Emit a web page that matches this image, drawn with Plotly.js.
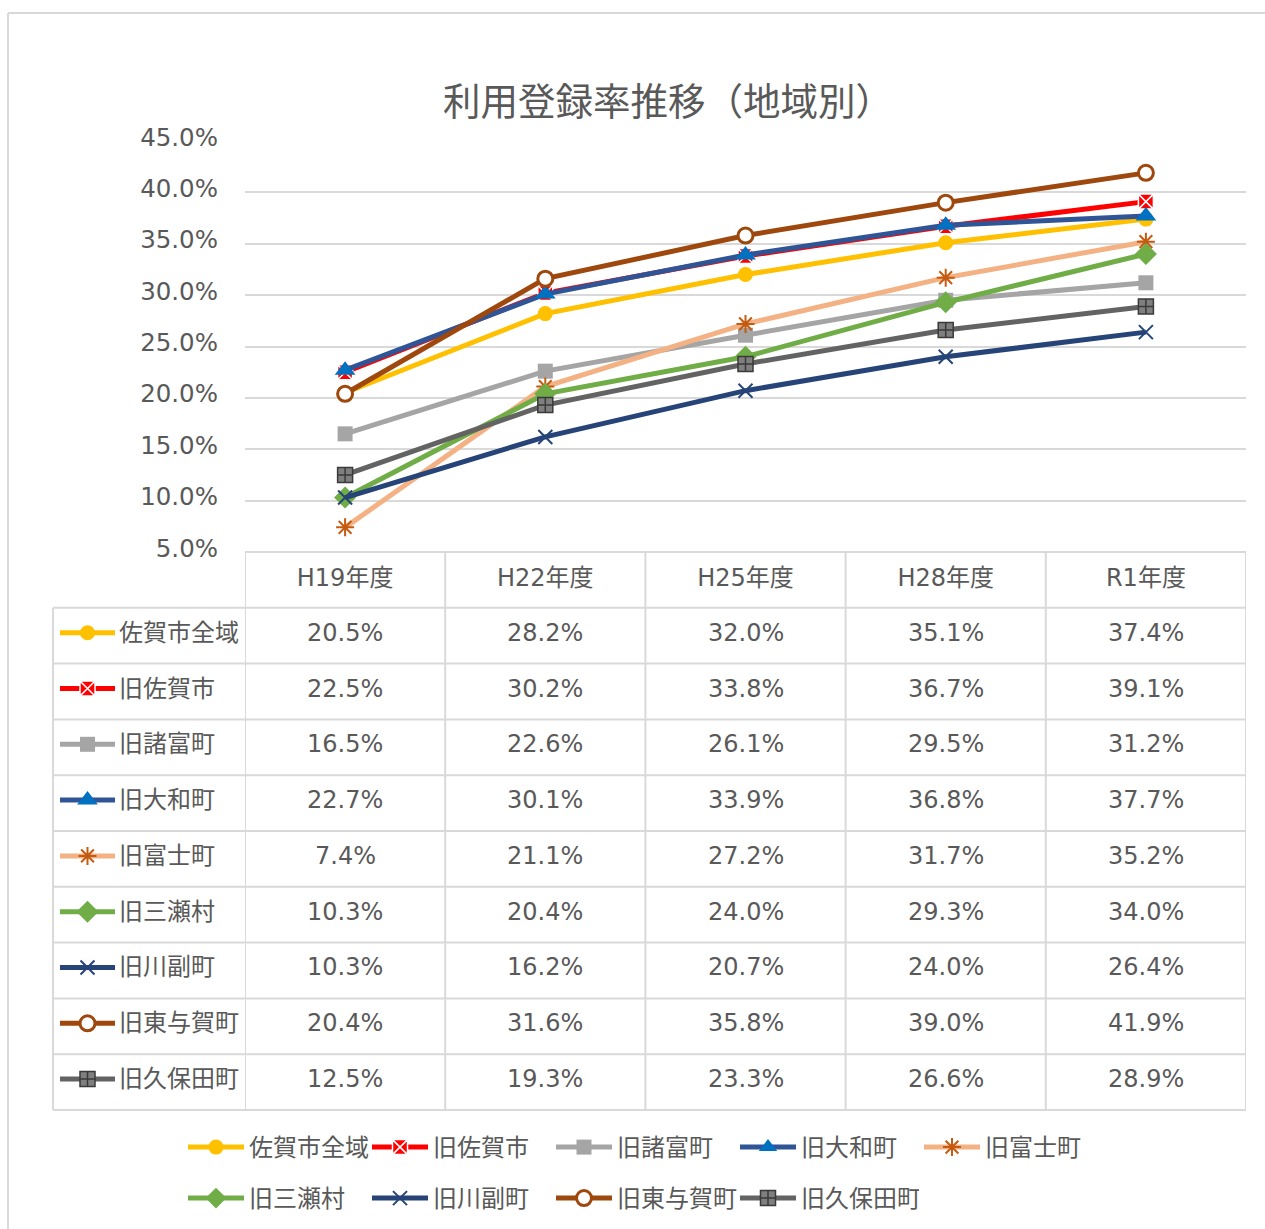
<!DOCTYPE html>
<html><head><meta charset="utf-8">
<script src="https://cdn.plot.ly/plotly-3.0.1.min.js"></script>
<style>html,body{margin:0;padding:0;background:#fff}</style>
</head><body><div id="chart" style="width:1265px;height:1229px"></div>
<script>
// ---- data ----
const years = ['H19年度','H22年度','H25年度','H28年度','R1年度'];
const regionNames = ['佐賀市全域','旧佐賀市','旧諸富町','旧大和町','旧富士町','旧三瀬村','旧川副町','旧東与賀町','旧久保田町'];
const sagaAll     = [20.5, 28.2, 32.0, 35.1, 37.4];
const kyuSaga     = [22.5, 30.2, 33.8, 36.7, 39.1];
const morodomi    = [16.5, 22.6, 26.1, 29.5, 31.2];
const yamato      = [22.7, 30.1, 33.9, 36.8, 37.7];
const fuji        = [7.4, 21.1, 27.2, 31.7, 35.2];
const mitsuse     = [10.3, 20.4, 24.0, 29.3, 34.0];
const kawasoe     = [10.3, 16.2, 20.7, 24.0, 26.4];
const higashiyoka = [20.4, 31.6, 35.8, 39.0, 41.9];
const kubota      = [12.5, 19.3, 23.3, 26.6, 28.9];
const yTicks = [5, 10, 15, 20, 25, 30, 35, 40, 45];
const chartTitle = '利用登録率推移（地域別）';

const seriesValues = [sagaAll, kyuSaga, morodomi, yamato, fuji, mitsuse, kawasoe, higashiyoka, kubota];

// ---- styles ----
const styles = [
  {line:'#FFC000', sym:'circle',        mc:'#FFC000', ml:'#FFC000', mlw:0,   ms:15},
  {line:'#FF0000', sym:'square-x',      mc:'#FF0000', ml:'#FFFFFF', mlw:1.5, ms:15},
  {line:'#A5A5A5', sym:'square',        mc:'#A5A5A5', ml:'#A5A5A5', mlw:0,   ms:15},
  {line:'#2F5597', sym:'triangle-up',   mc:'#0070C0', ml:'#0070C0', mlw:0,   ms:18},
  {line:'#F4B183', sym:'asterisk-open', mc:'#C55A11', ml:'#C55A11', mlw:2,   ms:15},
  {line:'#70AD47', sym:'diamond',       mc:'#70AD47', ml:'#70AD47', mlw:0,   ms:17},
  {line:'#264478', sym:'x-thin-open',   mc:'#264478', ml:'#264478', mlw:2,   ms:14},
  {line:'#9E480E', sym:'circle',        mc:'#FFFFFF', ml:'#9E480E', mlw:3,   ms:15},
  {line:'#636363', sym:'square-cross',  mc:'#7F7F7F', ml:'#3A3A3A', mlw:1.5, ms:15}
];

const W = 1265, H = 1229;
const px = v => v / W;
const py = v => 1 - v / H;
const FONT = 'DejaVu Sans, Noto Sans CJK JP, sans-serif';
const TXT = '#595959';
const GRID = '#D9D9D9';

// layout geometry (pixels)
const plotL = 245, plotR = 1246, plotT = 141, plotB = 552;
const rowH = 55.8;
const tableL = 53;
const nRows = regionNames.length;
const tableB = plotB + rowH * (nRows + 1);

const traces = [];
seriesValues.forEach((vals, i) => {
  const s = styles[i];
  traces.push({
    type: 'scatter', mode: 'lines+markers', name: regionNames[i],
    x: years, y: vals,
    legend: i < 5 ? 'legend' : 'legend2',
    line: {color: s.line, width: 5},
    marker: {symbol: s.sym, color: s.mc, size: s.ms, line: {color: s.ml, width: s.mlw}},
    hoverinfo: 'x+y+name'
  });
});

// table row keys (legend keys inside the data table) on an overlay pixel axis
const keyX0 = 60, keyX1 = 115;
regionNames.forEach((nm, i) => {
  const s = styles[i];
  const rc = plotB + rowH * (i + 1) + rowH / 2;
  traces.push({
    type: 'scatter', mode: 'lines', xaxis: 'x2', yaxis: 'y2', showlegend: false, hoverinfo: 'skip',
    x: [keyX0, keyX1], y: [rc - 3, rc - 3], line: {color: s.line, width: 5}
  });
  traces.push({
    type: 'scatter', mode: 'markers', xaxis: 'x2', yaxis: 'y2', showlegend: false, hoverinfo: 'skip',
    x: [(keyX0 + keyX1) / 2], y: [rc - 3],
    marker: {symbol: s.sym, color: s.mc, size: s.ms, line: {color: s.ml, width: s.mlw}}
  });
});

const shapes = [];
// outer frame
shapes.push({type:'line', xref:'paper', yref:'paper', x0:px(8), x1:1, y0:py(13), y1:py(13), line:{color:GRID, width:2}});
shapes.push({type:'line', xref:'paper', yref:'paper', x0:px(8), x1:px(8), y0:py(13), y1:0, line:{color:GRID, width:2}});
// table horizontal lines
shapes.push({type:'line', xref:'paper', yref:'paper', x0:px(plotL), x1:px(plotR), y0:py(plotB), y1:py(plotB), line:{color:GRID, width:2}});
for (let k = 1; k <= nRows + 1; k++) {
  const yy = plotB + rowH * k;
  shapes.push({type:'line', xref:'paper', yref:'paper', x0:px(tableL), x1:px(plotR), y0:py(yy), y1:py(yy), line:{color:GRID, width:2}});
}
// table vertical lines at category boundaries
for (let i = 0; i <= years.length; i++) {
  shapes.push({type:'line', xref:'x', yref:'paper', x0:i - 0.5, x1:i - 0.5, y0:py(plotB), y1:py(tableB), line:{color:GRID, width:2}});
}
shapes.push({type:'line', xref:'paper', yref:'paper', x0:px(tableL), x1:px(tableL), y0:py(plotB + rowH), y1:py(tableB), line:{color:GRID, width:2}});

const annotations = [];
annotations.push({xref:'paper', yref:'paper', x:px(668), y:py(102), text:chartTitle, showarrow:false,
  xanchor:'center', yanchor:'middle', font:{family:FONT, size:37.5, color:TXT}});
regionNames.forEach((nm, i) => {
  const rc = plotB + rowH * (i + 1) + rowH / 2;
  annotations.push({xref:'paper', yref:'paper', x:px(117), y:py(rc - 3), text:nm, showarrow:false,
    xanchor:'left', yanchor:'middle', font:{family:FONT, size:24, color:TXT}});
  seriesValues[i].forEach((v, j) => {
    annotations.push({xref:'x', yref:'paper', x:j, y:py(rc - 3), text:v.toFixed(1) + '%', showarrow:false,
      xanchor:'center', yanchor:'middle', font:{family:FONT, size:24, color:TXT}});
  });
});

const legendCommon = {orientation:'h', xanchor:'left', yanchor:'top',
  font:{family:FONT, size:24, color:TXT}, itemwidth:56, entrywidth:113, entrywidthmode:'pixels',
  bgcolor:'rgba(0,0,0,0)', itemclick:false, itemdoubleclick:false};

const layout = {
  width: W, height: H,
  margin: {l:0, r:0, t:0, b:0},
  paper_bgcolor: '#FFFFFF', plot_bgcolor: 'rgba(0,0,0,0)',
  showlegend: true,
  xaxis: {
    type:'category', domain:[px(plotL), px(plotR)], range:[-0.5, years.length - 0.5],
    showgrid:false, zeroline:false, showline:false, ticks:'',
    tickfont:{family:FONT, size:24, color:TXT}, ticklabelstandoff: 9, fixedrange:true
  },
  yaxis: {
    domain:[py(plotB), py(plotT)], range:[5, 45], tickvals: yTicks, ticktext: yTicks.map(v => v.toFixed(1) + '%'),
    showgrid:true, gridcolor:GRID, gridwidth:2, zeroline:false, showline:false, ticks:'',
    tickfont:{family:FONT, size:24.5, color:TXT}, ticklabelstandoff: 26, ticklabelshift: -4, fixedrange:true
  },
  xaxis2: {domain:[0,1], range:[0, W], visible:false, anchor:'y2', fixedrange:true},
  yaxis2: {domain:[0,1], range:[H, 0], visible:false, anchor:'x2', fixedrange:true},
  legend: Object.assign({x:px(183), y:py(1125)}, legendCommon),
  legend2: Object.assign({x:px(183), y:py(1176)}, legendCommon),
  shapes: shapes,
  annotations: annotations
};

Plotly.newPlot('chart', traces, layout, {displayModeBar:false});
</script>
</body></html>
